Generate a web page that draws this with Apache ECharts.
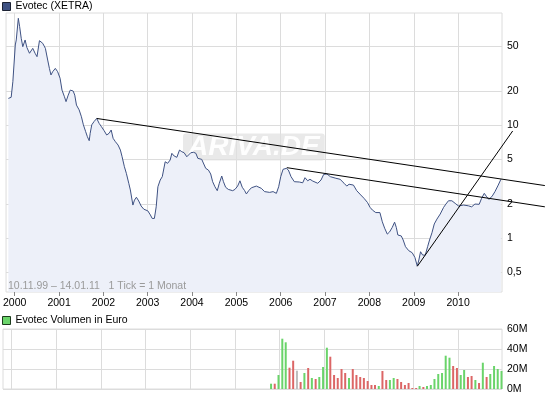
<!DOCTYPE html>
<html>
<head>
<meta charset="utf-8">
<script src="https://cdn.jsdelivr.net/npm/echarts@6/dist/echarts.min.js"></script>
<style>
html,body{margin:0;padding:0;background:#fff;}
#chart{width:545px;height:398px;}
</style>
</head>
<body>
<div id="chart"></div>
<script>
// ---------- data ----------
const priceDates = ['1999-11-10','1999-12-03','1999-12-17','2000-01-06','2000-01-14','2000-01-31','2000-02-11','2000-02-24','2000-03-08','2000-03-27','2000-04-10','2000-05-02','2000-05-29','2000-06-17','2000-07-03','2000-07-23','2000-08-19','2000-09-10','2000-09-29','2000-10-13','2000-10-26','2000-11-09','2000-12-01','2000-12-20','2001-01-09','2001-01-25','2001-02-14','2001-02-27','2001-03-17','2001-04-03','2001-04-27','2001-05-10','2001-05-24','2001-06-15','2001-07-04','2001-07-20','2001-08-08','2001-08-22','2001-09-06','2001-09-14','2001-09-27','2001-10-16','2001-11-07','2001-11-27','2001-12-16','2002-01-07','2002-01-28','2002-02-17','2002-03-06','2002-03-22','2002-04-10','2002-05-02','2002-05-21','2002-06-04','2002-06-23','2002-07-09','2002-07-29','2002-08-11','2002-09-01','2002-09-14','2002-09-30','2002-10-19','2002-11-08','2002-11-30','2003-01-02','2003-01-23','2003-02-07','2003-02-25','2003-03-12','2003-03-26','2003-04-14','2003-05-01','2003-05-25','2003-06-14','2003-07-05','2003-07-19','2003-08-07','2003-08-29','2003-09-20','2003-10-09','2003-10-28','2003-11-19','2003-12-03','2003-12-22','2004-01-14','2004-02-02','2004-02-18','2004-03-21','2004-04-04','2004-04-23','2004-05-15','2004-06-03','2004-06-19','2004-07-08','2004-07-27','2004-08-13','2004-09-02','2004-09-16','2004-10-04','2004-10-26','2004-12-01','2004-12-20','2005-01-11','2005-01-30','2005-02-18','2005-03-10','2005-03-24','2005-04-12','2005-05-04','2005-06-14','2005-07-25','2005-08-21','2005-10-02','2005-10-30','2005-11-26','2005-12-15','2006-01-01','2006-01-20','2006-02-16','2006-03-05','2006-03-27','2006-04-23','2006-06-03','2006-07-01','2006-07-20','2006-08-11','2006-08-30','2006-09-22','2006-10-05','2006-11-02','2006-11-29','2006-12-21','2007-01-17','2007-02-14','2007-03-31','2007-05-05','2007-06-07','2007-06-29','2007-07-18','2007-08-23','2007-09-19','2007-10-22','2007-11-18','2007-12-16','2008-01-07','2008-01-26','2008-02-23','2008-03-28','2008-04-17','2008-05-06','2008-05-28','2008-06-16','2008-07-08','2008-07-27','2008-08-10','2008-08-23','2008-09-20','2008-10-06','2008-10-25','2008-11-21','2008-12-19','2009-01-10','2009-01-30','2009-02-12','2009-02-26','2009-03-15','2009-04-06','2009-04-25','2009-05-11','2009-05-31','2009-06-19','2009-07-11','2009-08-07','2009-08-21','2009-09-04','2009-09-23','2009-10-14','2009-11-11','2009-12-08','2010-01-05','2010-02-15','2010-03-27','2010-04-23','2010-05-20','2010-06-24','2010-07-14','2010-08-05','2010-08-25','2010-09-13','2010-10-10','2010-11-01','2010-11-28','2010-12-20'];
const priceValues = [17.3,17.7,24.3,51.4,56.9,88.5,74.6,58.9,49.6,56.9,49.0,43.4,48.0,43.4,40.5,56.1,53.2,48.0,37.8,31.9,27.9,29.8,31.9,29.8,26.1,20.5,17.9,16.2,18.5,20.5,20.1,18.5,15.1,13.7,11.9,10.1,8.78,7.93,7.31,8.50,10.1,10.8,11.5,10.4,9.72,8.96,8.21,8.50,9.09,7.67,7.16,6.69,6.04,5.27,4.30,3.76,3.07,2.68,1.97,2.18,2.31,2.14,1.93,1.81,1.75,1.61,1.50,1.50,1.90,2.86,3.28,3.51,4.76,4.61,4.93,5.65,5.35,5.21,6.04,5.84,5.72,5.27,5.10,5.72,5.77,5.65,5.10,5.00,4.93,4.16,4.02,3.71,3.17,2.86,2.64,3.07,3.56,3.17,2.83,2.71,2.64,2.71,2.90,3.23,2.83,2.64,2.47,2.64,2.80,2.90,2.77,2.59,2.55,2.59,2.50,2.86,3.51,4.08,4.16,4.02,3.51,3.17,3.15,3.10,3.44,3.23,3.33,3.21,3.28,3.07,3.28,3.68,3.71,3.51,3.40,3.33,3.07,2.90,3.01,2.96,2.64,2.42,2.26,2.08,1.88,1.78,1.69,1.69,1.40,1.23,1.09,1.14,1.25,1.39,1.25,1.07,1.05,0.966,0.843,0.777,0.746,0.679,0.569,0.643,0.761,0.711,0.711,0.843,0.966,1.12,1.34,1.48,1.64,1.68,1.88,2.01,2.15,2.15,2.04,1.93,1.97,1.94,1.90,2.01,2.00,2.26,2.50,2.33,2.21,2.37,2.59,2.96,3.33];

const trendLine1 = [['2001-11-07', 11.5], ['2011-12-17', 2.93]];
const trendLine2 = [['2006-02-20', 4.22], ['2011-12-17', 1.90]];
const trendLine3 = [['2009-01-30', 0.565], ['2011-03-27', 8.91]];

const volMonths = ['2005-11','2005-12','2006-01','2006-02','2006-03','2006-04','2006-05','2006-06','2006-07','2006-08','2006-09','2006-10','2006-11','2006-12','2007-01','2007-02','2007-03','2007-04','2007-05','2007-06','2007-07','2007-08','2007-09','2007-10','2007-11','2007-12','2008-01','2008-02','2008-03','2008-04','2008-05','2008-06','2008-07','2008-08','2008-09','2008-10','2008-11','2008-12','2009-01','2009-02','2009-03','2009-04','2009-05','2009-06','2009-07','2009-08','2009-09','2009-10','2009-11','2009-12','2010-01','2010-02','2010-03','2010-04','2010-05','2010-06','2010-07','2010-08','2010-09','2010-10','2010-11','2010-12','2011-01'];
const volValues = [5.3,5.3,14,50.3,46.7,21.3,28.3,18.3,7,16,21,11,10,12,22,41.3,32.3,14,11,20,16,11,20,14,12,11,8,4,4,3,18,9,9,11,10,7,4,6,1,1,3,2,3,4,10,15,16,33.3,31.3,23,21,14,19,12,13,9,6,26.3,12,15,23,20,18];
const volDir = ['u','d','u','u','u','d','d','n','d','u','d','u','d','u','u','u','d','d','d','d','d','u','d','d','d','d','d','d','d','u','d','d','u','u','d','d','d','d','d','d','u','d','u','u','u','u','u','u','u','d','d','u','u','d','d','u','d','u','d','u','u','u','u'];

const yearTicks = ['2000-01-01','2001-01-01','2002-01-01','2003-01-01','2004-01-01','2005-01-01','2006-01-01','2007-01-01','2008-01-01','2009-01-01','2010-01-01'];
const priceTicks = [0.5, 1, 2, 5, 10, 20, 50];
const volTicks = [0, 20, 40, 60];

// ---------- chart ----------
const FONT = '"Liberation Sans", Arial, sans-serif';
const FS = 10.5;
const GRID_C = '#dcdcdc';
const chart = echarts.init(document.getElementById('chart'), null, {renderer: 'canvas'});
const T = s => echarts.time.parse(s).getTime();
const DAY = 864e5;

const dirColor = {u: '#6ad46a', d: '#dc6666', n: '#bdbdbd'};
const volData = volMonths.map((m, i) => ({
  value: [T(m + '-01') - 7 * DAY, volValues[i]],
  itemStyle: {color: dirColor[volDir[i]]}
}));
const priceData = priceDates.map((d, i) => [T(d), priceValues[i]]);
const yearTickTs = yearTicks.map(T);

const xMin = T('1999-10-22'), xMax = T('2010-12-29');

const baseGraphic = [
  {type: 'text', left: 183, top: 133, z: 1, silent: true,
   style: {text: 'ARIVA.DE', font: 'italic bold 28px "Liberation Sans", Arial, sans-serif',
     fill: 'rgba(255,255,255,0.95)', backgroundColor: 'rgba(224,224,224,0.7)',
     padding: [0, 5, 0, 5], lineHeight: 27, borderRadius: 3}},
  {type: 'text', left: 8, top: 281, z: 5, silent: true,
   style: {text: '10.11.99 \u2013 14.01.11   1 Tick = 1 Monat', font: FS + 'px "Liberation Sans", Arial, sans-serif',
     fill: '#9a9a9a'}}
];

const option = {
  animation: false,
  textStyle: {fontFamily: FONT},
  legend: [
    {data: ['Evotec (XETRA)'], left: 2, top: 1, padding: 0, icon: 'rect', itemWidth: 8, itemHeight: 8,
     selectedMode: false, itemStyle: {borderColor: '#1c2233', borderWidth: 1},
     textStyle: {fontSize: FS, color: '#000', fontFamily: FONT}},
    {data: ['Evotec Volumen in Euro'], left: 2, top: 315, padding: 0, icon: 'rect', itemWidth: 8, itemHeight: 8,
     selectedMode: false, itemStyle: {borderColor: '#1c3a1c', borderWidth: 1},
     textStyle: {fontSize: FS, color: '#000', fontFamily: FONT}}
  ],
  grid: [
    {left: 3, top: 13, width: 499, height: 279, show: true, borderColor: GRID_C, borderWidth: 1, backgroundColor: 'transparent'},
    {left: 3, top: 329, width: 499, height: 60, show: true, borderColor: GRID_C, borderWidth: 1, backgroundColor: 'transparent'}
  ],
  xAxis: [
    {type: 'value', gridIndex: 0, min: xMin, max: xMax, scale: true,
     axisLine: {show: false},
     axisTick: {show: true, customValues: yearTickTs, length: 4, lineStyle: {color: '#888'}},
     axisLabel: {show: true, customValues: yearTickTs, color: '#000', fontSize: FS, margin: 6, fontFamily: FONT,
       formatter: v => String(new Date(v).getFullYear())},
     splitLine: {show: true, lineStyle: {color: GRID_C, width: 1}}},
    {type: 'value', gridIndex: 1, min: xMin, max: xMax, scale: true,
     axisLine: {show: false},
     axisTick: {show: false, customValues: yearTickTs},
     axisLabel: {show: false, customValues: yearTickTs},
     splitLine: {show: true, lineStyle: {color: GRID_C, width: 1}}}
  ],
  yAxis: [
    {type: 'log', gridIndex: 0, position: 'right', min: 0.335, max: 98.6, logBase: 10,
     axisLine: {show: false},
     axisTick: {show: false, customValues: priceTicks},
     axisLabel: {customValues: priceTicks, color: '#000', fontSize: FS, margin: 5, fontFamily: FONT,
       formatter: v => String(v).replace('.', ',')},
     splitLine: {show: true, lineStyle: {color: GRID_C, width: 1}}},
    {type: 'value', gridIndex: 1, position: 'right', min: 0, max: 60, interval: 20,
     axisLine: {show: false},
     axisTick: {show: false},
     axisLabel: {color: '#000', fontSize: FS, margin: 5, fontFamily: FONT, formatter: v => v + 'M'},
     splitLine: {show: true, lineStyle: {color: GRID_C, width: 1}}}
  ],
  series: [
    {name: 'Evotec (XETRA)', type: 'line', xAxisIndex: 0, yAxisIndex: 0, data: priceData,
     showSymbol: false, symbol: 'none', z: 3,
     itemStyle: {color: '#3e5182'},
     lineStyle: {color: '#3e5182', width: 1},
     areaStyle: {color: '#edf0f9', opacity: 1, origin: 'start'}},
    {name: 'Evotec Volumen in Euro', type: 'bar', xAxisIndex: 1, yAxisIndex: 1, data: volData,
     barWidth: 2, itemStyle: {color: '#6ad46a'}}
  ],
  graphic: baseGraphic
};
chart.setOption(option);

// trend lines: endpoints converted through the chart's own axes (they run past the plot edge)
const trendGraphic = [trendLine1, trendLine2, trendLine3].map(tl => {
  const a = chart.convertToPixel({xAxisIndex: 0, yAxisIndex: 0}, [T(tl[0][0]), tl[0][1]]);
  const b = chart.convertToPixel({xAxisIndex: 0, yAxisIndex: 0}, [T(tl[1][0]), tl[1][1]]);
  return {type: 'line', z: 10, silent: true,
    shape: {x1: a[0], y1: a[1], x2: b[0], y2: b[1]},
    style: {stroke: '#000', lineWidth: 1}};
});
chart.setOption({graphic: baseGraphic.concat(trendGraphic)});
</script>
</body>
</html>
